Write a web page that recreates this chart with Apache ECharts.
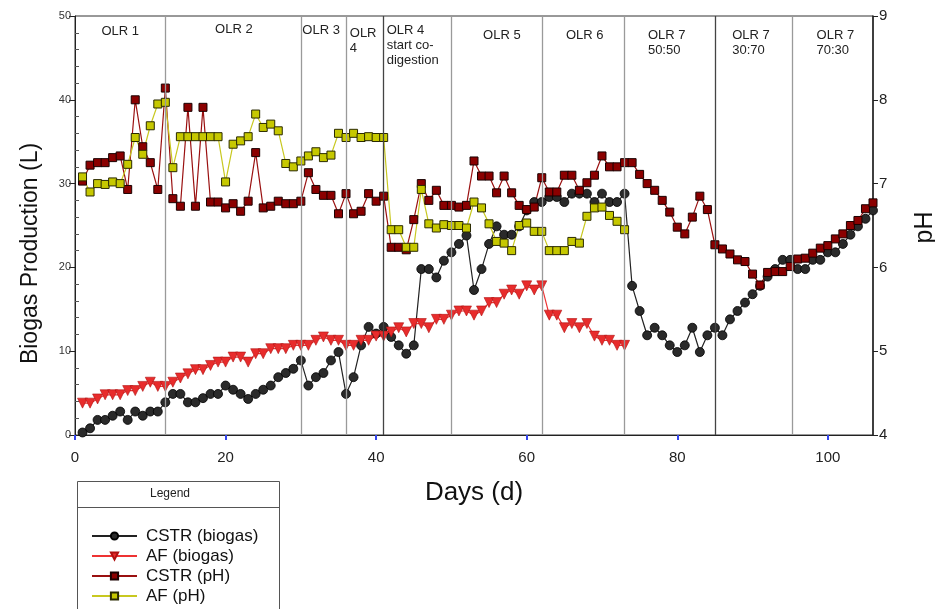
<!DOCTYPE html>
<html>
<head>
<meta charset="utf-8">
<script src="https://cdn.jsdelivr.net/npm/echarts@6/dist/echarts.min.js"></script>
<style>
html, body { margin: 0; padding: 0; background: #fff; }
#chart { width: 935px; height: 609px; }
</style>
</head>
<body>
<div id="chart"></div>
<script>
// daily values, day 1 onwards
const cstrBiogas = [
    0.3, 0.8, 1.8, 1.8, 2.3, 2.8, 1.8, 2.8, 2.3, 2.8,
    2.8, 3.9, 4.9, 4.9, 3.9, 3.9, 4.4, 4.9, 4.9, 5.9,
    5.4, 4.9, 4.3, 4.9, 5.4, 5.9, 6.9, 7.4, 7.9, 8.9,
    5.9, 6.9, 7.4, 8.9, 9.9, 4.9, 6.9, 10.7, 12.9, 12.1,
    12.9, 11.7, 10.7, 9.7, 10.7, 19.8, 19.8, 18.8, 20.8, 21.8,
    22.8, 23.8, 17.3, 19.8, 22.8, 24.9, 23.9, 23.9, 24.9, 26.8,
    27.8, 27.8, 28.4, 28.4, 27.8, 28.8, 28.8, 28.8, 27.8, 28.8,
    27.8, 27.8, 28.8, 17.8, 14.8, 11.9, 12.8, 11.9, 10.7, 9.9,
    10.7, 12.8, 9.9, 11.9, 12.8, 11.9, 13.8, 14.8, 15.8, 16.8,
    17.8, 18.9, 19.8, 20.9, 20.9, 19.8, 19.8, 20.9, 20.9, 21.8,
    21.8, 22.8, 23.9, 24.9, 25.8, 26.8
]
const afBiogas = [
    3.8, 3.8, 4.3, 4.8, 4.8, 4.8, 5.3, 5.3, 5.8, 6.3,
    5.8, 5.8, 6.3, 6.8, 7.3, 7.8, 7.8, 8.3, 8.7, 8.7,
    9.3, 9.3, 8.7, 9.7, 9.7, 10.3, 10.3, 10.3, 10.7, 10.7,
    10.7, 11.3, 11.7, 11.3, 11.3, 10.7, 10.7, 11.3, 11.3, 11.8,
    11.8, 12.3, 12.8, 12.3, 13.3, 13.3, 12.8, 13.8, 13.8, 14.3,
    14.8, 14.8, 14.3, 14.8, 15.8, 15.8, 16.8, 17.3, 16.8, 17.8,
    17.3, 17.8, 14.3, 14.3, 12.8, 13.3, 12.8, 13.3, 11.8, 11.3,
    11.3, 10.7, 10.7
]
const cstrPH = [
    7.03, 7.22, 7.25, 7.25, 7.31, 7.33, 6.93, 8.0, 7.44, 7.25,
    6.93, 8.14, 6.82, 6.73, 7.91, 6.73, 7.91, 6.78, 6.78, 6.71,
    6.76, 6.67, 6.79, 7.37, 6.71, 6.73, 6.79, 6.76, 6.76, 6.79,
    7.13, 6.93, 6.86, 6.86, 6.64, 6.88, 6.64, 6.67, 6.88, 6.79,
    6.85, 6.24, 6.24, 6.21, 6.57, 7.0, 6.80, 6.92, 6.74, 6.74,
    6.72, 6.74, 7.27, 7.09, 7.09, 6.89, 7.09, 6.89, 6.74, 6.69,
    6.72, 7.07, 6.90, 6.90, 7.10, 7.10, 6.92, 7.01, 7.10, 7.33,
    7.20, 7.20, 7.25, 7.25, 7.11, 7.0, 6.92, 6.80, 6.66, 6.48,
    6.40, 6.60, 6.85, 6.69, 6.27, 6.22, 6.16, 6.09, 6.07, 5.92,
    5.79, 5.94, 5.95, 5.95, 6.01, 6.10, 6.11, 6.17, 6.23, 6.26,
    6.34, 6.40, 6.50, 6.56, 6.70, 6.77
]
const afPH = [
    7.08, 6.90, 7.0, 6.99, 7.02, 7.0, 7.23, 7.55, 7.35, 7.69,
    7.95, 7.97, 7.19, 7.56, 7.56, 7.56, 7.56, 7.56, 7.56, 7.02,
    7.47, 7.51, 7.56, 7.83, 7.67, 7.71, 7.63, 7.24, 7.20, 7.27,
    7.33, 7.38, 7.31, 7.34, 7.60, 7.55, 7.60, 7.55, 7.56, 7.55,
    7.55, 6.45, 6.45, 6.24, 6.24, 6.93, 6.52, 6.47, 6.51, 6.50,
    6.50, 6.47, 6.78, 6.71, 6.52, 6.31, 6.29, 6.20, 6.50, 6.53,
    6.43, 6.43, 6.20, 6.20, 6.20, 6.31, 6.29, 6.61, 6.71, 6.72,
    6.62, 6.55, 6.45
]

// phase boundaries (day) and labels
const phaseDays = [12, 30, 36, 41, 50, 62, 73, 85, 95.3]
const phaseDark = [41, 85]
const phaseLabels = ['OLR 1', 'OLR 2', 'OLR 3', 'OLR\n4', 'OLR 4\nstart co-\ndigestion',
    'OLR 5', 'OLR 6', 'OLR 7\n50:50', 'OLR 7\n30:70', 'OLR 7\n70:30']
const xTicks = [0, 20, 40, 60, 80, 100]

// where each phase label sits: [day, biogas level, align]
const labelAnchors = [
    [6.0, 49.1, 'center'], [21.1, 49.3, 'center'], [30.2, 49.2, 'left'], [36.5, 48.8, 'left'],
    [41.4, 49.2, 'left'], [56.7, 48.6, 'center'], [67.7, 48.6, 'center'],
    [76.1, 48.6, 'left'], [87.3, 48.6, 'left'], [98.5, 48.6, 'left']
]

const toPoints = arr => arr.map((v, i) => [i + 1, v])
const font = 'Liberation Sans, Arial, sans-serif'

const chart = echarts.init(document.getElementById('chart'))

chart.setOption({
    animation: false,
    textStyle: { fontFamily: font },
    grid: {
        left: 75, right: 62, top: 16, bottom: 174,
        outerBoundsMode: 'none', containLabel: false,
        show: true, borderColor: '#333', borderWidth: 1
    },
    legend: {
        data: ['CSTR (biogas)', 'AF (biogas)', 'CSTR (pH)', 'AF (pH)'],
        orient: 'vertical',
        left: 86, top: 522, height: 86,
        itemWidth: 45, itemHeight: 9, itemGap: 2,
        textStyle: { fontSize: 17, lineHeight: 18, color: '#111', padding: [0, 0, 0, 4] }
    },
    xAxis: {
        type: 'value', min: 0, max: 106, interval: 20,
        name: 'Days (d)', nameLocation: 'middle', nameGap: 45,
        nameTextStyle: { fontSize: 26, color: '#111' },
        axisLine: { lineStyle: { color: '#222' } },
        axisTick: { customValues: xTicks, length: 5, lineStyle: { color: '#3344ee', width: 2 } },
        axisLabel: { customValues: xTicks, fontSize: 15, color: '#222', margin: 15 },
        splitLine: { show: false }
    },
    yAxis: [
        {
            type: 'value', min: 0, max: 50, interval: 10,
            name: 'Biogas Production (L)', nameLocation: 'middle', nameGap: 33, nameRotate: 90,
            nameTextStyle: { fontSize: 23, color: '#111', padding: [0, 56, 0, 0] },
            axisLine: { show: true, lineStyle: { color: '#222' } },
            // negative length with inside keeps major ticks outward, minor ticks inward
            axisTick: { show: true, inside: true, length: -6, lineStyle: { color: '#222' } },
            minorTick: { show: true, splitNumber: 5, length: 4, lineStyle: { color: '#555' } },
            axisLabel: { fontSize: 11, color: '#333', margin: 4 },
            splitLine: { show: false }
        },
        {
            type: 'value', min: 4, max: 9, interval: 1, position: 'right',
            name: 'pH', nameLocation: 'middle', nameGap: 40, nameRotate: 90,
            nameTextStyle: { fontSize: 25, color: '#111', padding: [0, 4, 0, 0] },
            axisLine: { show: true, lineStyle: { color: '#222', width: 1.5 } },
            axisTick: { show: true, length: 5, lineStyle: { color: '#222' } },
            axisLabel: { fontSize: 15, color: '#222', margin: 6 },
            splitLine: { show: false }
        }
    ],
    series: [
        {
            name: 'phases', type: 'line', data: [],
            markLine: {
                silent: true, symbol: ['none', 'none'], label: { show: false },
                data: phaseDays.map(d => ({
                    xAxis: d,
                    lineStyle: { color: phaseDark.includes(d) ? '#444' : '#9a9a9a', width: 1.3, type: 'solid' }
                }))
            }
        },
        {
            name: 'CSTR (biogas)', type: 'line', data: toPoints(cstrBiogas),
            symbol: 'circle', symbolSize: 9,
            lineStyle: { color: '#222', width: 1.2 },
            itemStyle: { color: '#2a2a2a', borderColor: '#000', borderWidth: 0.8 }
        },
        {
            name: 'AF (biogas)', type: 'line', data: toPoints(afBiogas),
            symbol: 'triangle', symbolRotate: 180, symbolSize: 10,
            lineStyle: { color: '#ee3333', width: 1.2 },
            itemStyle: { color: '#e82c2c', borderColor: '#b01010', borderWidth: 0.6 }
        },
        {
            name: 'CSTR (pH)', type: 'line', yAxisIndex: 1, data: toPoints(cstrPH),
            symbol: 'rect', symbolSize: 8,
            lineStyle: { color: '#9a1010', width: 1.2 },
            itemStyle: { color: '#8b0000', borderColor: '#1a0000', borderWidth: 1 }
        },
        {
            name: 'AF (pH)', type: 'line', yAxisIndex: 1, data: toPoints(afPH),
            symbol: 'rect', symbolSize: 8,
            lineStyle: { color: '#c8c820', width: 1.2 },
            itemStyle: { color: '#c6c800', borderColor: '#2a2a00', borderWidth: 1 }
        }
    ]
})

// phase labels at data positions, plus the legend frame
const texts = phaseLabels.map((t, i) => {
    const [day, lvl, align] = labelAnchors[i]
    const p = chart.convertToPixel({ xAxisIndex: 0, yAxisIndex: 0 }, [day, lvl])
    return {
        type: 'text', x: p[0], y: p[1], silent: true,
        style: { text: t, fill: '#222', font: '13px ' + font, align: align, verticalAlign: 'top', lineHeight: 15 }
    }
})

chart.setOption({
    graphic: texts.concat([
        { type: 'rect', shape: { x: 77.5, y: 481.5, width: 202, height: 140 }, style: { fill: 'none', stroke: '#555', lineWidth: 1 }, silent: true },
        { type: 'line', shape: { x1: 77.5, y1: 507.5, x2: 279.5, y2: 507.5 }, style: { stroke: '#555', lineWidth: 1 }, silent: true },
        { type: 'text', x: 170, y: 494, style: { text: 'Legend', fill: '#222', font: '12px ' + font, align: 'center', verticalAlign: 'middle' }, silent: true }
    ])
})
</script>
</body>
</html>
